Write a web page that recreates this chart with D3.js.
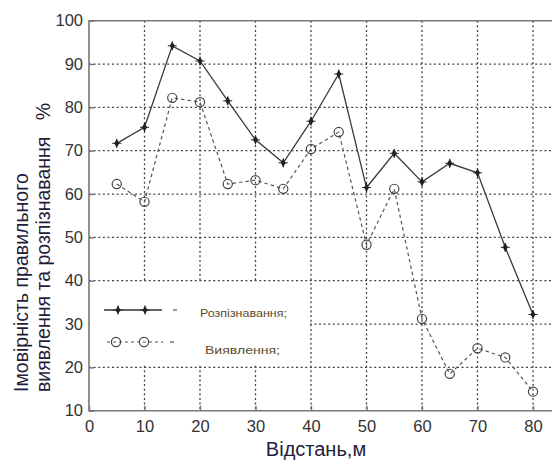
<!DOCTYPE html>
<html>
<head>
<meta charset="utf-8">
<script src="https://d3js.org/d3.v7.min.js"></script>
<style>
	body { margin: 0; background: #fff; }
	svg { display: block; font-family: Arial, "Liberation Sans", sans-serif; }
</style>
</head>
<body>
<div id="chart"></div>
<script>
	// Data
	let distances = [5, 10, 15, 20, 25, 30, 35, 40, 45, 50, 55, 60, 65, 70, 75, 80];
	let recognition = [71.7, 75.4, 94.2, 90.7, 81.5, 72.5, 67.2, 76.8, 87.7, 61.5, 69.4, 62.8, 67.1, 64.9, 47.7, 32.2];
	let detection = [62.3, 58.2, 82.2, 81.2, 62.3, 63.2, 61.2, 70.4, 74.3, 48.3, 61.2, 31.2, 18.5, 24.4, 22.3, 14.4];
	let xTicks = [0, 10, 20, 30, 40, 50, 60, 70, 80];
	let yTicks = [10, 20, 30, 40, 50, 60, 70, 80, 90, 100];
	let legendLabels = ['Розпізнавання;', 'Виявлення;'];

	var svg_width = 552,
	svg_height = 460;

	var plotLeft = 89, plotTop = 20.7, plotBottom = 410.7;

	var x = d3.scaleLinear().domain([0, 80]).range([plotLeft, 533]);
	var y = d3.scaleLinear().domain([10, 100]).range([plotBottom, plotTop]);

	var svg = d3.select("#chart").append("svg")
		.attr("width", svg_width)
		.attr("height", svg_height);

	// grid
	var grid = svg.append("g").attr("class", "grid");
	grid.selectAll("line.gx")
		.data(xTicks.filter(d => d > 0))
		.enter().append("line")
		.attr("x1", d => x(d)).attr("x2", d => x(d))
		.attr("y1", plotTop).attr("y2", plotBottom)
		.style("stroke", "#444").style("stroke-width", 1.3)
		.style("stroke-dasharray", "2,2.6");
	grid.selectAll("line.gy")
		.data(yTicks.filter(d => d > 10 && d < 100))
		.enter().append("line")
		.attr("x1", plotLeft).attr("x2", svg_width)
		.attr("y1", d => y(d)).attr("y2", d => y(d))
		.style("stroke", "#444").style("stroke-width", 1.3)
		.style("stroke-dasharray", "2,2.6");

	// frame
	svg.append("path")
		.attr("d", "M" + svg_width + "," + plotTop + "H" + plotLeft + "V" + plotBottom + "H" + svg_width)
		.style("fill", "none").style("stroke", "#777").style("stroke-width", 1.6);

	// axes
	var xAxis = svg.append("g")
		.attr("transform", "translate(0," + plotBottom + ")")
		.call(d3.axisBottom(x).tickValues(xTicks).tickSize(-5).tickPadding(10));
	var yAxis = svg.append("g")
		.attr("transform", "translate(" + plotLeft + ",0)")
		.call(d3.axisLeft(y).tickValues(yTicks).tickSize(-5).tickPadding(6));
	[xAxis, yAxis].forEach(function(a) {
		a.select(".domain").remove();
		a.selectAll("line").style("stroke", "#777").style("stroke-width", 1.4);
		a.selectAll("text").style("font-size", "16.5px").style("fill", "#333")
			.style("font-family", "Arial, 'Liberation Sans', sans-serif");
	});

	// series
	var line = d3.line()
		.x((d, i) => x(distances[i]))
		.y(d => y(d));

	svg.append("path")
		.datum(detection)
		.attr("d", line)
		.style("fill", "none").style("stroke", "#555").style("stroke-width", 1.2)
		.style("stroke-dasharray", "3.5,3");

	svg.append("path")
		.datum(recognition)
		.attr("d", line)
		.style("fill", "none").style("stroke", "#3a3a3a").style("stroke-width", 1.3);

	function star(g) {
		g.append("path")
			.attr("d", d3.symbol().type(d3.symbolDiamond).size(22))
			.style("fill", "#222");
		g.append("path")
			.attr("d", "M-4.5,0H4.5M0,-4.5V4.5")
			.style("stroke", "#222").style("stroke-width", 1);
	}
	function ring(g) {
		g.append("circle").attr("r", 4.6)
			.style("fill", "none").style("stroke", "#444").style("stroke-width", 1.2);
	}

	svg.selectAll("g.star")
		.data(recognition)
		.enter().append("g")
		.attr("transform", (d, i) => "translate(" + x(distances[i]) + "," + y(d) + ")")
		.each(function() { star(d3.select(this)); });

	svg.selectAll("g.ring")
		.data(detection)
		.enter().append("g")
		.attr("transform", (d, i) => "translate(" + x(distances[i]) + "," + y(d) + ")")
		.each(function() { ring(d3.select(this)); });

	// legend
	var legend = svg.append("g");
	legend.append("rect")
		.attr("x", plotLeft + 1).attr("y", y(40) + 2)
		.attr("width", 220).attr("height", y(20) - y(40) - 4)
		.style("fill", "#fff");

	var l1 = 310, l2 = 342;
	legend.append("line").attr("x1", 104).attr("x2", 162).attr("y1", l1).attr("y2", l1)
		.style("stroke", "#333").style("stroke-width", 1.3);
	[118, 145].forEach(function(px) {
		star(legend.append("g").attr("transform", "translate(" + px + "," + l1 + ")"));
	});
	legend.append("line").attr("x1", 107).attr("x2", 163).attr("y1", l2).attr("y2", l2)
		.style("stroke", "#555").style("stroke-width", 1.2).style("stroke-dasharray", "3,3");
	[116, 144].forEach(function(px) {
		ring(legend.append("g").attr("transform", "translate(" + px + "," + l2 + ")"));
	});
	[[l1, 175], [l2, 172]].forEach(function(p) {
		legend.append("line").attr("x1", p[1] - 2).attr("x2", p[1] + 2).attr("y1", p[0]).attr("y2", p[0])
			.style("stroke", "#555").style("stroke-width", 1.2);
	});
	legend.selectAll("text")
		.data(legendLabels)
		.enter().append("text")
		.attr("x", (d, i) => i == 0 ? 200 : 205)
		.attr("y", (d, i) => i == 0 ? 317 : 354)
		.attr("textLength", (d, i) => i == 0 ? 87 : 75)
		.attr("lengthAdjust", "spacingAndGlyphs")
		.text(d => d)
		.style("font-size", "11px").style("fill", "#5e4a2e");

	// titles
	svg.append("text")
		.attr("x", 316).attr("y", 456)
		.attr("text-anchor", "middle")
		.style("font-size", "20px").style("fill", "#1e1e3c")
		.text("Відстань,м");

	var yt = svg.append("text")
		.attr("transform", "translate(28,392) rotate(-90)")
		.style("font-size", "19.5px").style("fill", "#1e1e3c")
		.style("white-space", "pre");
	yt.append("tspan").attr("x", 0).attr("y", 0).text("Імовірність правильного");
	yt.append("tspan").attr("x", 0).attr("y", 22).text("виявлення та розпізнавання   %");
</script>
</body>
</html>
